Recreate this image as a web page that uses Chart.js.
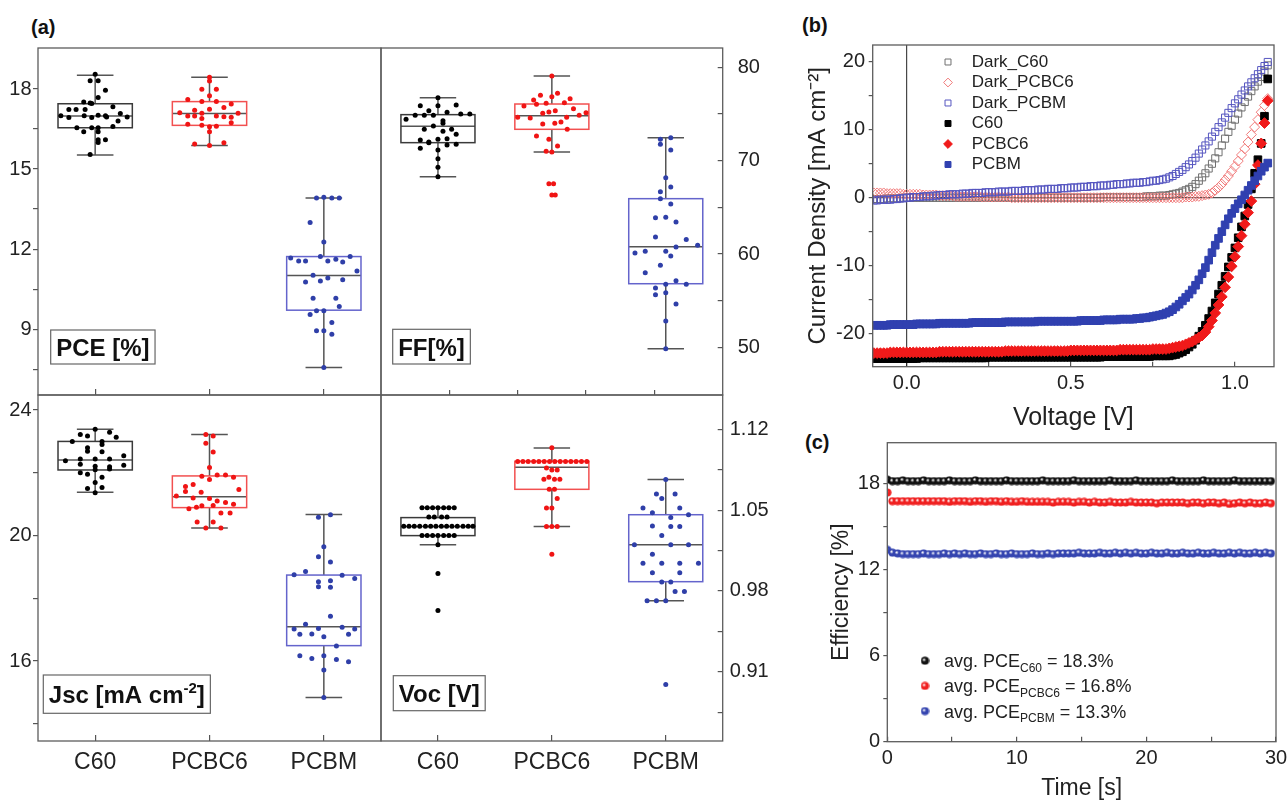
<!DOCTYPE html>
<html>
<head>
<meta charset="utf-8">
<script src="https://cdn.jsdelivr.net/npm/chart.js@4.4.1/dist/chart.umd.min.js"></script>
<style>
  body { margin: 0; background: #fff; }
  #wrap { position: relative; width: 1288px; height: 803px; overflow: hidden; font-family: "Liberation Sans", Arial, sans-serif; }
  #wrap canvas { position: absolute; }
  .lab { position: absolute; font-weight: bold; font-size: 20px; color: #111; line-height: 1; }
</style>
</head>
<body>
<div id="wrap">
  <div class="lab" style="left:31px;top:17px">(a)</div>
  <div class="lab" style="left:802px;top:15px">(b)</div>
  <div class="lab" style="left:805px;top:432px">(c)</div>
  <canvas id="pce" width="400" height="380" style="left:0;top:30px"></canvas>
  <canvas id="ff" width="400" height="380" style="left:370px;top:30px"></canvas>
  <canvas id="jsc" width="400" height="423" style="left:0;top:380px"></canvas>
  <canvas id="voc" width="400" height="423" style="left:370px;top:380px"></canvas>
  <canvas id="jv" width="508" height="420" style="left:780px;top:20px"></canvas>
  <canvas id="eff" width="508" height="383" style="left:780px;top:420px"></canvas>
</div>
<script>
// ---------- data: panel (a) ----------
const categories = ['C60', 'PCBC6', 'PCBM'];

// box statistics per category: [min, q1, median, q3, max]
const pceStats = [[15.53, 16.55, 16.99, 17.45, 18.52], [15.88, 16.64, 17.08, 17.53, 18.44], [7.56, 9.71, 11.01, 11.72, 13.92]];
const ffStats = [[68.29, 71.93, 73.68, 74.93, 76.75], [70.93, 73.36, 74.82, 76.07, 79.07], [49.86, 56.82, 60.79, 65.93, 72.46]];
const jscStats = [[21.38, 22.09, 22.41, 23.0, 23.39], [20.24, 20.89, 21.24, 21.9, 23.22], [14.84, 16.49, 17.09, 18.74, 20.67]];
const vocStats = [[1.02, 1.0279, 1.0357, 1.0435, 1.0521], [1.0357, 1.068, 1.0871, 1.0923, 1.1038], [0.9715, 0.988, 1.02, 1.046, 1.0764]];

// individual devices: [value, horizontal jitter in category units]
const pceC60 = [[18.56,0],[18.31,-0.044],[18.31,0.026],[17.96,0.09],[17.68,0.026],[17.52,-0.1],[17.48,-0.044],[17.46,-0.03],[17.34,0.155],[17.23,-0.23],[17.23,-0.167],[17.23,-0.088],[17.0,-0.3],[16.93,-0.23],[17.0,-0.096],[16.93,-0.03],[17.02,0.026],[17.0,0.09],[16.95,0.1],[17.08,0.22],[16.95,0.28],[16.8,0.2],[16.55,-0.16],[16.4,-0.1],[16.55,-0.03],[16.55,0.026],[16.6,0.155],[16.4,0.026],[16.1,0.026],[16.0,0.026],[16.1,0.09],[15.55,-0.044]];
const pcePCBC6 = [[18.44,0],[18.3,0],[17.99,-0.067],[17.99,0.06],[17.75,0],[17.61,-0.19],[17.53,-0.067],[17.53,0.06],[17.44,0.19],[17.24,0],[17.21,-0.13],[17.31,0.126],[17.11,-0.26],[16.99,-0.13],[16.99,-0.19],[17.09,-0.067],[16.99,0.06],[16.94,0.19],[17.09,0.25],[16.74,0.19],[16.68,-0.19],[16.64,-0.067],[16.59,0],[16.61,0.06],[16.4,0],[15.94,-0.13],[15.88,0],[15.99,0.126],[16.96,0.126],[16.9,-0.067]];
const pcePCBM = [[13.92,-0.064],[13.94,0],[13.92,0.07],[13.92,0.135],[13.0,-0.12],[12.27,0],[11.67,-0.29],[11.55,-0.22],[11.55,-0.16],[11.72,-0.03],[11.55,0.035],[11.62,0.105],[11.52,0.165],[11.72,0.23],[11.18,0.29],[11.02,-0.094],[10.92,0.035],[10.77,-0.16],[10.8,-0.03],[10.85,0.165],[10.16,-0.094],[10.16,0.105],[9.85,0.135],[9.69,-0.064],[9.69,0],[9.55,-0.12],[9.25,0.07],[8.94,-0.064],[8.94,0],[8.81,0.07],[7.56,0]];

const ffC60 = [[76.75,0],[75.89,-0.155],[75.89,0],[75.96,0.16],[75.36,-0.08],[74.43,-0.28],[74.86,-0.2],[74.86,-0.12],[74.86,-0.04],[75.18,0.08],[75.0,0.2],[75.0,0.28],[74.29,0.044],[74.0,0.044],[73.71,-0.04],[73.36,-0.12],[73.36,0.12],[72.82,0.16],[73.14,0.044],[72.21,-0.155],[71.93,-0.08],[72.29,0],[72.36,0.08],[71.75,0.16],[71.32,-0.155],[72.0,-0.08],[71.68,0.08],[71.14,0],[70.21,0],[69.29,0],[68.29,0]];
const ffPCBC6 = [[79.07,0],[77.0,-0.1],[76.86,0],[77.21,0.05],[76.5,-0.16],[76.64,0.16],[75.86,-0.245],[76.04,-0.135],[76.14,-0.05],[76.21,0.11],[75.57,0.19],[75.07,-0.08],[75.21,-0.026],[75.36,0.03],[74.64,-0.3],[74.57,-0.19],[74.64,0.13],[74.86,0.24],[75.14,0.3],[73.93,-0.08],[74.0,0.026],[74.14,0.08],[73.36,0.135],[72.64,-0.135],[72.29,-0.026],[71.57,0.05],[71.0,-0.05],[70.93,0],[67.54,-0.026],[67.54,0.015],[66.32,0],[66.32,0.03]];
const ffPCBM = [[72.29,-0.047],[72.46,0.044],[71.75,-0.047],[71.14,0.044],[68.18,0],[66.68,-0.047],[67.18,0.044],[65.93,-0.047],[65.36,0.044],[63.89,-0.09],[63.93,0],[63.43,0.09],[61.82,-0.09],[61.57,0.18],[60.93,0.28],[60.75,0.09],[60.11,-0.27],[60.29,-0.18],[60.29,0],[59.79,0.044],[58.79,-0.047],[58.0,-0.18],[57.14,0.09],[56.75,0],[56.75,0.18],[56.36,-0.09],[55.64,-0.09],[55.86,0],[54.64,0.09],[52.82,0],[49.86,0]];

const jscC60 = [[23.39,0],[23.22,-0.13],[23.17,-0.067],[23.29,0.126],[23.13,0.184],[23.0,-0.2],[23.0,0.06],[22.9,0.06],[22.8,-0.067],[22.69,-0.067],[22.67,0.06],[22.54,0.25],[22.38,-0.26],[22.44,-0.13],[22.44,0],[22.44,0.126],[22.27,-0.13],[22.21,0],[22.19,0.126],[22.24,0.25],[22.1,0],[22.12,0.126],[22.0,-0.13],[21.95,-0.067],[21.86,0.06],[21.69,0],[21.5,-0.067],[21.53,0.06],[21.36,0]];
const jscPCBC6 = [[23.22,-0.032],[23.17,0.032],[22.94,-0.032],[22.66,0.032],[22.17,0],[21.89,-0.067],[21.79,0],[21.93,0.067],[21.93,0.14],[21.86,0.21],[21.63,-0.143],[21.56,-0.21],[21.4,-0.21],[21.38,-0.073],[21.47,0.257],[21.26,-0.29],[21.2,-0.143],[21.18,0],[21.1,0.067],[21.05,0.14],[21.0,0.21],[20.95,-0.067],[20.96,0.032],[20.9,-0.114],[20.85,-0.18],[20.72,0.1],[20.72,0.18],[20.43,-0.108],[20.43,0.032],[20.24,-0.032],[20.24,0.1]];
const jscPCBM = [[20.58,-0.047],[20.66,0.058],[19.64,0],[19.32,-0.047],[19.16,0.058],[18.75,-0.26],[18.85,-0.16],[18.73,0.16],[18.63,0.27],[18.53,-0.047],[18.56,0.058],[18.37,-0.047],[18.35,0.058],[17.43,0.058],[17.17,-0.16],[17.02,-0.26],[17.04,-0.047],[17.08,0.16],[17.02,0.27],[16.85,-0.21],[16.86,-0.105],[16.77,0],[16.85,0.216],[16.48,0.11],[16.17,-0.21],[16.08,-0.105],[16.17,0],[16.05,0.11],[15.98,0.216],[15.71,0],[14.84,0]];

const vocC60 = [[1.052,-0.14],[1.052,-0.094],[1.052,-0.047],[1.052,0],[1.052,0.05],[1.052,0.096],[1.052,0.143],
  [1.044,-0.08],[1.044,-0.032],[1.044,0.032],[1.044,0.08],
  [1.036,-0.3],[1.036,-0.254],[1.036,-0.208],[1.036,-0.16],[1.036,-0.11],[1.036,-0.064],[1.036,-0.018],[1.036,0.03],[1.036,0.076],[1.036,0.123],[1.036,0.17],[1.036,0.22],[1.036,0.266],[1.036,0.307],
  [1.028,-0.14],[1.028,-0.094],[1.028,-0.047],[1.028,0],[1.028,0.05],[1.028,0.096],[1.028,0.143],
  [1.02,0],[0.995,0],[0.963,0]];
const vocPCBC6 = [[1.104,0],
  [1.092,-0.3],[1.092,-0.254],[1.092,-0.208],[1.092,-0.16],[1.092,-0.114],[1.092,-0.067],[1.092,-0.02],[1.092,0.026],[1.092,0.073],[1.092,0.12],[1.092,0.167],[1.092,0.213],[1.092,0.26],[1.092,0.307],
  [1.0865,-0.047],[1.0848,0],[1.0848,0.047],[1.0784,-0.026],[1.0767,-0.07],[1.0767,0.023],[1.0767,0.07],
  [1.068,-0.023],[1.068,0.023],[1.06,0.047],[1.0518,-0.047],[1.0518,0],[1.0357,-0.047],[1.0357,0],[1.0357,0.047],[1.0117,0]];
const vocPCBM = [[1.0764,0],[1.064,-0.082],[1.06,-0.035],[1.064,0.082],[1.0518,-0.2],[1.0478,-0.117],[1.0518,0.123],[1.046,0.2],[1.0437,0.044],
  [1.0362,-0.117],[1.0357,0.044],[1.0357,0.123],[1.028,-0.035],[1.02,-0.275],[1.02,0.044],[1.02,0.2],[1.0117,-0.117],
  [1.0039,-0.2],[1.0039,-0.035],[1.0039,0.123],[1.0039,0.287],[0.9958,-0.117],[0.9958,0.123],[0.9877,-0.035],[0.9877,0.044],
  [0.9796,0.082],[0.9796,0.164],[0.9715,-0.164],[0.9715,-0.082],[0.9715,0],[0.899,0]];

// axis ticks / labels
const pceTicks = [7.5, 9, 10.5, 12, 13.5, 15, 16.5, 18], pceLabels = [9, 12, 15, 18];
const ffTicks = [50, 55, 60, 65, 70, 75, 80], ffLabels = [50, 60, 70, 80];
const jscTicks = [14, 16, 18, 20, 22, 24], jscLabels = [16, 20, 24];
const vocTicks = [0.875, 0.91, 0.945, 0.98, 1.015, 1.05, 1.085, 1.12], vocLabels = [0.91, 0.98, 1.05, 1.12];
const catTicks = [1, 2, 3];
const ffBottomTicks = [1.1, 1.7, 2.3, 2.9];

// ---------- data: panel (b) ----------
const volt = [-0.1,-0.09,-0.08,-0.07,-0.06,-0.05,-0.04,-0.03,-0.02,-0.01,
  0,0.01,0.02,0.03,0.04,0.05,0.06,0.07,0.08,0.09,
  0.1,0.11,0.12,0.13,0.14,0.15,0.16,0.17,0.18,0.19,
  0.2,0.21,0.22,0.23,0.24,0.25,0.26,0.27,0.28,0.29,
  0.3,0.31,0.32,0.33,0.34,0.35,0.36,0.37,0.38,0.39,
  0.4,0.41,0.42,0.43,0.44,0.45,0.46,0.47,0.48,0.49,
  0.5,0.51,0.52,0.53,0.54,0.55,0.56,0.57,0.58,0.59,
  0.6,0.61,0.62,0.63,0.64,0.65,0.66,0.67,0.68,0.69,
  0.7,0.71,0.72,0.73,0.74,0.75,0.76,0.77,0.78,0.79,
  0.8,0.81,0.82,0.83,0.84,0.85,0.86,0.87,0.88,0.89,
  0.9,0.91,0.92,0.93,0.94,0.95,0.96,0.97,0.98,0.99,
  1.0,1.01,1.02,1.03,1.04,1.05,1.06,1.07,1.08,1.09,
  1.1];
const jDarkC60 = [-0.2,-0.2,-0.2,-0.2,-0.1,-0.1,-0.1,-0.1,-0.1,0,
  0,0,0,0,0,0,0,0,0,0,
  0,0,0,0,0,0,0,0,0,0,
  0,0,0,0,0,0,0,0,0,0,
  0,0,0,0,0,0,0,0,0,0,
  0,0,0,0,0,0,0,0,0,0,
  0,0,0,0,0,0,0,0,0,0,
  0.1,0.1,0.1,0.1,0.1,0.1,0.1,0.1,0.1,0.1,
  0.1,0.1,0.1,0.2,0.2,0.2,0.2,0.3,0.3,0.3,
  0.4,0.5,0.6,0.7,0.9,1.1,1.3,1.6,2.0,2.5,
  3.0,3.6,4.3,5.0,5.8,6.7,7.7,8.7,9.7,10.6,
  11.5,12.4,13.3,14.1,14.9,15.7,16.4,17.1,17.8,18.6,
  19.5];
const jDarkPCBC6 = [0.7,0.7,0.7,0.7,0.6,0.6,0.6,0.6,0.6,0.5,
  0.5,0.5,0.5,0.5,0.5,0.4,0.4,0.4,0.4,0.4,
  0.3,0.3,0.3,0.3,0.3,0.2,0.2,0.2,0.2,0.2,
  0.2,0.2,0.2,0.1,0.1,0.1,0.1,0.1,0.1,0.1,
  0.1,0.1,0,0,0,0,0,0,0,0,
  0,0,0,0,0,0,0,0,0,0,
  0,0,0,0,0,0,0,0,0,0,
  0,0,0,0,0,0,0,0,0,0,
  0,0,0,0,0,0,0,0,0,0,
  0,0,0,0,0,0.1,0.1,0.1,0.2,0.2,
  0.3,0.4,0.5,0.7,1.1,1.5,2.0,2.6,3.2,3.9,
  4.6,5.4,6.3,7.2,8.2,9.3,10.4,11.5,12.6,13.6,
  14.6];
const jDarkPCBM = [-0.4,-0.4,-0.3,-0.3,-0.3,-0.3,-0.2,-0.2,-0.1,-0.1,
  0,0,0.1,0.1,0.1,0.2,0.2,0.2,0.3,0.3,
  0.4,0.4,0.4,0.5,0.5,0.5,0.5,0.6,0.6,0.6,
  0.7,0.7,0.7,0.7,0.8,0.8,0.8,0.8,0.9,0.9,
  0.9,0.9,1.0,1.0,1.0,1.0,1.1,1.1,1.1,1.1,
  1.2,1.2,1.2,1.3,1.3,1.3,1.3,1.4,1.4,1.4,
  1.5,1.5,1.5,1.6,1.6,1.6,1.7,1.7,1.7,1.8,
  1.8,1.8,1.9,1.9,2.0,2.0,2.0,2.1,2.1,2.2,
  2.2,2.2,2.3,2.3,2.4,2.5,2.5,2.6,2.7,2.8,
  3.0,3.2,3.5,3.8,4.1,4.5,4.9,5.4,5.9,6.5,
  7.1,7.7,8.3,9.0,9.7,10.4,11.1,11.8,12.5,13.2,
  13.9,14.5,15.2,15.8,16.4,17.0,17.6,18.2,18.8,19.4,
  20.0];
const jC60 = [-23.7,-23.7,-23.7,-23.7,-23.7,-23.7,-23.7,-23.7,-23.7,-23.7,
  -23.7,-23.7,-23.7,-23.7,-23.6,-23.6,-23.6,-23.6,-23.6,-23.6,
  -23.6,-23.6,-23.6,-23.6,-23.6,-23.6,-23.6,-23.6,-23.6,-23.6,
  -23.6,-23.6,-23.6,-23.6,-23.6,-23.5,-23.5,-23.5,-23.5,-23.5,
  -23.5,-23.5,-23.5,-23.5,-23.5,-23.5,-23.5,-23.5,-23.5,-23.5,
  -23.5,-23.5,-23.5,-23.5,-23.5,-23.5,-23.5,-23.5,-23.5,-23.5,
  -23.5,-23.5,-23.5,-23.5,-23.5,-23.5,-23.5,-23.5,-23.5,-23.5,
  -23.4,-23.4,-23.4,-23.4,-23.4,-23.4,-23.4,-23.4,-23.4,-23.4,
  -23.4,-23.4,-23.4,-23.4,-23.4,-23.3,-23.3,-23.3,-23.3,-23.3,
  -23.3,-23.2,-23.1,-22.9,-22.7,-22.4,-22.0,-21.6,-21.0,-20.4,
  -19.7,-18.8,-17.8,-16.7,-15.5,-14.2,-12.9,-11.6,-10.2,-8.8,
  -7.4,-5.9,-4.3,-2.7,-1.0,1.3,3.6,5.6,8.0,12.0,
  17.5];
const jPCBC6 = [-22.9,-22.9,-22.9,-22.9,-22.9,-22.8,-22.8,-22.8,-22.8,-22.8,
  -22.8,-22.8,-22.8,-22.8,-22.8,-22.8,-22.8,-22.8,-22.8,-22.8,
  -22.7,-22.7,-22.7,-22.7,-22.7,-22.7,-22.7,-22.7,-22.7,-22.7,
  -22.7,-22.7,-22.7,-22.7,-22.7,-22.7,-22.7,-22.7,-22.7,-22.7,
  -22.6,-22.6,-22.6,-22.6,-22.6,-22.6,-22.6,-22.6,-22.6,-22.6,
  -22.6,-22.6,-22.6,-22.6,-22.6,-22.6,-22.6,-22.6,-22.6,-22.6,
  -22.5,-22.5,-22.5,-22.5,-22.5,-22.5,-22.5,-22.5,-22.5,-22.5,
  -22.5,-22.5,-22.5,-22.5,-22.5,-22.4,-22.4,-22.4,-22.4,-22.4,
  -22.4,-22.4,-22.4,-22.4,-22.4,-22.3,-22.3,-22.3,-22.3,-22.3,
  -22.2,-22.1,-22.0,-21.9,-21.8,-21.6,-21.4,-21.2,-20.9,-20.6,
  -20.3,-19.8,-19.0,-18.1,-17.0,-15.8,-14.6,-13.2,-11.7,-10.1,
  -8.7,-7.2,-5.6,-3.9,-2.2,-0.5,2.0,4.8,8.0,11.0,
  14.3];
const jPCBM = [-18.8,-18.8,-18.8,-18.8,-18.8,-18.7,-18.7,-18.7,-18.7,-18.7,
  -18.7,-18.7,-18.7,-18.6,-18.6,-18.6,-18.6,-18.6,-18.6,-18.6,
  -18.5,-18.5,-18.5,-18.5,-18.5,-18.5,-18.5,-18.5,-18.5,-18.5,
  -18.4,-18.4,-18.4,-18.4,-18.4,-18.4,-18.4,-18.4,-18.4,-18.4,
  -18.3,-18.3,-18.3,-18.3,-18.3,-18.3,-18.3,-18.3,-18.3,-18.3,
  -18.2,-18.2,-18.2,-18.2,-18.2,-18.2,-18.2,-18.2,-18.2,-18.2,
  -18.2,-18.2,-18.2,-18.1,-18.1,-18.1,-18.1,-18.1,-18.1,-18.1,
  -18.0,-18.0,-18.0,-18.0,-18.0,-17.9,-17.9,-17.9,-17.9,-17.9,
  -17.8,-17.8,-17.7,-17.7,-17.6,-17.5,-17.4,-17.3,-17.2,-17.0,
  -16.8,-16.5,-16.1,-15.7,-15.2,-14.7,-14.2,-13.6,-12.9,-12.1,
  -11.2,-10.3,-9.2,-8.1,-7.0,-6.0,-5.0,-4.0,-3.1,-2.3,
  -1.6,-0.9,-0.3,0.4,1.1,1.8,2.5,3.2,3.9,4.5,
  5.1];
const jvNames = ['Dark_C60', 'Dark_PCBC6', 'Dark_PCBM', 'C60', 'PCBC6', 'PCBM'];
const jvXTicks = [0, 0.25, 0.5, 0.75, 1], jvXLabels = [0, 0.5, 1];
const jvYTicks = [-20, -15, -10, -5, 0, 5, 10, 15, 20], jvYLabels = [-20, -10, 0, 10, 20];

// ---------- data: panel (c) ----------
const time = [0,0.4,0.8,1.2,1.6,2,2.4,2.8,3.2,3.6,4,4.4,4.8,5.2,5.6,6,6.4,6.8,7.2,7.6,8,8.4,8.8,9.2,9.6,10,10.4,10.8,11.2,11.6,12,12.4,12.8,13.2,13.6,14,14.4,14.8,15.2,15.6,16,16.4,16.8,17.2,17.6,18,18.4,18.8,19.2,19.6,20,20.4,20.8,21.2,21.6,22,22.4,22.8,23.2,23.6,24,24.4,24.8,25.2,25.6,26,26.4,26.8,27.2,27.6,28,28.4,28.8,29.2,29.6];
const effC60 = [18.3,18.2,18.2,18.25,18.2,18.2,18.2,18.25,18.2,18.2,18.2,18.2,18.25,18.2,18.2,
  18.2,18.2,18.25,18.2,18.2,18.2,18.2,18.2,18.25,18.2,18.2,18.2,18.2,18.2,18.2,
  18.25,18.2,18.2,18.2,18.2,18.2,18.25,18.2,18.2,18.2,18.2,18.2,18.2,18.25,18.2,
  18.2,18.2,18.2,18.25,18.2,18.2,18.2,18.2,18.2,18.2,18.25,18.2,18.2,18.2,18.2,
  18.2,18.25,18.2,18.2,18.2,18.2,18.2,18.25,18.2,18.2,18.2,18.2,18.2,18.2,18.2];
const effPCBC6 = [17.4,16.8,16.8,16.8,16.8,16.8,16.8,16.8,16.8,16.8,16.8,16.8,16.75,16.8,16.8,
  16.8,16.75,16.8,16.8,16.75,16.8,16.8,16.75,16.8,16.75,16.75,16.8,16.75,16.75,16.75,
  16.75,16.75,16.7,16.75,16.75,16.75,16.7,16.75,16.75,16.7,16.75,16.7,16.7,16.75,16.7,
  16.7,16.7,16.75,16.7,16.7,16.7,16.7,16.65,16.7,16.7,16.7,16.7,16.7,16.65,16.7,
  16.7,16.65,16.7,16.7,16.65,16.7,16.6,16.65,16.7,16.65,16.7,16.65,16.65,16.7,16.65];
const effPCBM = [13.4,13.2,13.15,13.1,13.1,13.1,13.1,13.15,13.1,13.1,13.1,13.15,13.1,13.15,13.1,
  13.15,13.1,13.1,13.15,13.1,13.1,13.15,13.1,13.1,13.15,13.1,13.1,13.1,13.15,13.1,
  13.1,13.15,13.1,13.15,13.15,13.15,13.15,13.2,13.15,13.15,13.15,13.2,13.15,13.15,13.2,
  13.15,13.2,13.15,13.2,13.15,13.15,13.2,13.15,13.15,13.2,13.15,13.15,13.2,13.15,13.15,
  13.2,13.15,13.15,13.2,13.15,13.15,13.2,13.15,13.2,13.15,13.15,13.2,13.15,13.2,13.15];
const effNames = ['C60', 'PCBC6', 'PCBM'];
const effAvg = [18.3, 16.8, 13.3];
const effXTicks = [0, 5, 10, 15, 20, 25, 30], effXLabels = [0, 10, 20, 30];
const effYTicks = [0, 3, 6, 9, 12, 15, 18], effYLabels = [0, 6, 12, 18];

// ---------- styling ----------
const FONT = '"Liberation Sans", Arial, sans-serif';
Chart.defaults.font.family = FONT;
Chart.defaults.color = '#222';
const AXIS = '#555';
const dotColors = ['#000000', '#f01414', '#2f3fa8'];
const boxColors = ['#3a3a3a', '#f25050', '#6464cc'];

function axis(o) {
  return {
    type: 'linear', position: o.pos, min: o.min, max: o.max,
    border: { display: false },
    grid: { drawOnChartArea: false, drawTicks: true, tickLength: o.tl, color: AXIS, lineWidth: 1.2 },
    ticks: {
      autoSkip: false, maxRotation: 0, minRotation: 0, padding: o.pad,
      font: { size: o.fs || 20 }, color: '#222',
      callback: v => {
        const l = o.labels.find(t => Math.abs(t - v) < 1e-6);
        return l === undefined ? '' : (o.fmt ? o.fmt(l) : String(l));
      }
    },
    afterBuildTicks: s => { s.ticks = o.ticks.map(v => ({ value: v })); },
    afterFit: s => {
      if (s.isHorizontal()) s.height = o.size; else s.width = o.size;
      s.paddingTop = s.paddingBottom = s.paddingLeft = s.paddingRight = 0;
    },
    title: o.title ? { display: true, text: o.title, font: { size: o.tfs }, color: '#222', padding: o.tpad } : { display: false }
  };
}

const frame = {
  id: 'frame',
  afterDraw(c) {
    const a = c.chartArea, x = c.ctx;
    x.save();
    x.strokeStyle = '#5c5c5c';
    x.lineWidth = 1.3;
    x.strokeRect(a.left, a.top, a.right - a.left, a.bottom - a.top);
    x.restore();
  }
};

function boxPlugin(stats) {
  return {
    id: 'boxes',
    beforeDatasetsDraw(chart) {
      const ctx = chart.ctx, x = chart.scales.x, y = chart.scales.y;
      ctx.save();
      ctx.lineWidth = 1.5;
      stats.forEach((s, i) => {
        const cx = x.getPixelForValue(i + 1);
        const hw = x.getPixelForValue(i + 1.325) - cx;
        const cw = x.getPixelForValue(i + 1.16) - cx;
        const [mn, q1, md, q3, mx] = s.map(v => y.getPixelForValue(v));
        ctx.strokeStyle = '#555';
        ctx.beginPath();
        ctx.moveTo(cx, mx); ctx.lineTo(cx, q3);
        ctx.moveTo(cx, q1); ctx.lineTo(cx, mn);
        ctx.moveTo(cx - cw, mx); ctx.lineTo(cx + cw, mx);
        ctx.moveTo(cx - cw, mn); ctx.lineTo(cx + cw, mn);
        ctx.moveTo(cx - hw, md); ctx.lineTo(cx + hw, md);
        ctx.stroke();
        ctx.strokeStyle = boxColors[i];
        ctx.strokeRect(cx - hw, q3, 2 * hw, q1 - q3);
      });
      ctx.restore();
    }
  };
}

// boxed panel label, e.g. "PCE [%]"
function tagPlugin(t) {
  return {
    id: 'tag',
    afterDraw(c) {
      const x = c.ctx, a = c.chartArea;
      const f = s => 'bold ' + (s.sup ? 15 : 24) + 'px ' + FONT;
      x.save();
      let w = 0;
      t.segs.forEach(s => { x.font = f(s); w += x.measureText(s.t).width; });
      const L = a.left + t.dx, T = a.bottom - t.dy;
      x.strokeStyle = '#666';
      x.lineWidth = 1.2;
      x.strokeRect(L, T, w + 11, t.h);
      x.fillStyle = '#111';
      x.textBaseline = 'alphabetic';
      let cx = L + 5.5;
      const by = T + t.h / 2 + 9;
      t.segs.forEach(s => {
        x.font = f(s);
        x.fillText(s.t, cx, by - (s.sup ? 10 : 0));
        cx += x.measureText(s.t).width;
      });
      x.restore();
    }
  };
}

function boxChart(id, o) {
  return new Chart(document.getElementById(id), {
    type: 'scatter',
    data: {
      datasets: o.points.map((pts, i) => ({
        data: pts.map(p => ({ x: i + 1 + p[1], y: p[0] })),
        pointRadius: 2.5, pointHoverRadius: 2.5, pointBorderWidth: 0,
        pointBackgroundColor: dotColors[i], borderColor: dotColors[i]
      }))
    },
    options: {
      responsive: false, animation: false, events: [],
      layout: { padding: o.pad },
      plugins: { legend: { display: false }, tooltip: { enabled: false } },
      scales: { x: o.x, y: o.y }
    },
    plugins: [boxPlugin(o.stats), tagPlugin(o.tag), frame]
  });
}

const catFmt = v => categories[v - 1];

boxChart('pce', {
  points: [pceC60, pcePCBC6, pcePCBM], stats: pceStats,
  pad: { left: 0, top: 18, right: 19, bottom: 15 },
  x: axis({ pos: 'bottom', min: 0.5, max: 3.5, ticks: catTicks, labels: [], tl: -6, pad: 0, size: 0 }),
  y: axis({ pos: 'left', min: 6.53, max: 19.54, ticks: pceTicks, labels: pceLabels, tl: 5, pad: 1.5, size: 38 }),
  tag: { segs: [{ t: 'PCE [%]' }], dx: 12.7, dy: 65, h: 34 }
});

boxChart('ff', {
  points: [ffC60, ffPCBC6, ffPCBM], stats: ffStats,
  pad: { left: 11, top: 18, right: 0, bottom: 15 },
  x: axis({ pos: 'bottom', min: 0.5, max: 3.5, ticks: ffBottomTicks, labels: [], tl: -5, pad: 0, size: 0 }),
  y: axis({ pos: 'right', min: 44.9, max: 82.07, ticks: ffTicks, labels: ffLabels, tl: -5, pad: 20, size: 47.3 }),
  tag: { segs: [{ t: 'FF[%]' }], dx: 11.7, dy: 65.7, h: 34.7 }
});

boxChart('jsc', {
  points: [jscC60, jscPCBC6, jscPCBM], stats: jscStats,
  pad: { left: 0, top: 15, right: 19, bottom: 0 },
  x: axis({ pos: 'bottom', min: 0.5, max: 3.5, ticks: catTicks, labels: catTicks, fmt: catFmt, tl: -6, pad: 14, size: 62, fs: 23 }),
  y: axis({ pos: 'left', min: 13.45, max: 24.48, ticks: jscTicks, labels: jscLabels, tl: 5, pad: 1.5, size: 38 }),
  tag: { segs: [{ t: 'Jsc [mA cm' }, { t: '-2', sup: true }, { t: ']' }], dx: 5.3, dy: 66, h: 38.3 }
});

boxChart('voc', {
  points: [vocC60, vocPCBC6, vocPCBM], stats: vocStats,
  pad: { left: 11, top: 15, right: 0, bottom: 0 },
  x: axis({ pos: 'bottom', min: 0.5, max: 3.5, ticks: catTicks, labels: catTicks, fmt: catFmt, tl: -6, pad: 14, size: 62, fs: 23 }),
  y: axis({ pos: 'right', min: 0.85, max: 1.1497, ticks: vocTicks, labels: vocLabels, fmt: v => v.toFixed(2), tl: -5, pad: 12, size: 47.3 }),
  tag: { segs: [{ t: 'Voc [V]' }], dx: 12.3, dy: 65.3, h: 35 }
});

// ---------- panel (b): J-V ----------
const jvSeries = [jDarkC60, jDarkPCBC6, jDarkPCBM, jC60, jPCBC6, jPCBM];
const jvStyle = [
  { shape: 'rect', r: 5, color: '#707070', open: true },
  { shape: 'rectRot', r: 5, color: '#f07a7a', open: true },
  { shape: 'rect', r: 5, color: '#5555c0', open: true },
  { shape: 'rect', r: 5.4, color: '#000000', open: false },
  { shape: 'rectRot', r: 5.4, color: '#f01a1a', open: false },
  { shape: 'rect', r: 5.4, color: '#3040b0', open: false }
];

function drawMarker(ctx, st, x, y, r) {
  ctx.save();
  ctx.translate(x, y);
  ctx.beginPath();
  if (st.shape === 'rectRot') {
    ctx.moveTo(-r, 0); ctx.lineTo(0, -r); ctx.lineTo(r, 0); ctx.lineTo(0, r); ctx.closePath();
  } else {
    const h = r * Math.SQRT1_2;
    ctx.rect(-h, -h, 2 * h, 2 * h);
  }
  ctx.lineWidth = 1;
  ctx.strokeStyle = st.color;
  if (!st.open) { ctx.fillStyle = st.color; ctx.fill(); }
  ctx.stroke();
  ctx.restore();
}

const zeroLines = {
  id: 'zeroLines',
  beforeDatasetsDraw(c) {
    const { ctx, chartArea: a, scales: { x, y } } = c;
    const px = x.getPixelForValue(0), py = y.getPixelForValue(0);
    ctx.save();
    ctx.strokeStyle = '#222';
    ctx.lineWidth = 1;
    ctx.beginPath();
    ctx.moveTo(px, a.top); ctx.lineTo(px, a.bottom);
    ctx.moveTo(a.left, py); ctx.lineTo(a.right, py);
    ctx.stroke();
    ctx.restore();
  }
};

const jvLegend = {
  id: 'jvLegend',
  afterDraw(c) {
    const x = c.ctx, a = c.chartArea;
    x.save();
    jvNames.forEach((n, i) => {
      const py = a.top + 17 + i * 20.5;
      drawMarker(x, jvStyle[i], a.left + 75.3, py, jvStyle[i].shape === 'rectRot' ? 4.4 : 4.2);
      x.font = '17px ' + FONT;
      x.fillStyle = '#222';
      x.textBaseline = 'middle';
      x.fillText(n, a.left + 99, py);
    });
    x.restore();
  }
};

new Chart(document.getElementById('jv'), {
  type: 'scatter',
  data: {
    datasets: jvSeries.map((js, i) => ({
      label: jvNames[i],
      data: volt.map((v, k) => ({ x: v, y: js[k] })),
      pointStyle: jvStyle[i].shape,
      pointRadius: jvStyle[i].r, pointHoverRadius: jvStyle[i].r,
      pointBorderWidth: 1,
      pointBorderColor: jvStyle[i].color,
      pointBackgroundColor: jvStyle[i].open ? 'rgba(0,0,0,0)' : jvStyle[i].color,
      order: 6 - i
    }))
  },
  options: {
    responsive: false, animation: false, events: [],
    layout: { padding: { left: 0, top: 25, right: 14, bottom: 0 } },
    plugins: { legend: { display: false }, tooltip: { enabled: false } },
    scales: {
      x: axis({ pos: 'bottom', min: -0.1035, max: 1.119, ticks: jvXTicks, labels: jvXLabels, fmt: v => v.toFixed(1),
        tl: -5, pad: 9.8, size: 73.3, title: 'Voltage [V]', tfs: 25, tpad: { top: 0, bottom: 7 } }),
      y: axis({ pos: 'left', min: -24.9, max: 22.5, ticks: jvYTicks, labels: jvYLabels,
        tl: 4, pad: 3.7, size: 92.7, title: 'Current Density [mA cm\u207B\u00B2]', tfs: 24, tpad: { top: 23.6, bottom: 0 } })
    }
  },
  plugins: [zeroLines, frame, jvLegend]
});

// ---------- panel (c): efficiency vs time ----------
const effSeries = [effC60, effPCBC6, effPCBM];
const effColors = ['#111111', '#f02020', '#3545b0'];

function sphere(col) {
  const c = document.createElement('canvas');
  c.width = c.height = 9;
  const g = c.getContext('2d');
  const gr = g.createRadialGradient(3.3, 3.3, 0.3, 4.5, 4.5, 4.4);
  gr.addColorStop(0, '#ffffff');
  gr.addColorStop(0.4, col);
  gr.addColorStop(1, col);
  g.fillStyle = gr;
  g.beginPath();
  g.arc(4.5, 4.5, 4.1, 0, Math.PI * 2);
  g.fill();
  return c;
}
const effMarkers = effColors.map(sphere);

const effLegend = {
  id: 'effLegend',
  afterDraw(c) {
    const x = c.ctx, a = c.chartArea;
    x.save();
    x.fillStyle = '#222';
    x.textBaseline = 'alphabetic';
    effNames.forEach((n, i) => {
      const py = a.top + 218 + i * 25.2;
      x.drawImage(effMarkers[i], a.left + 37.7 - 4.5, py - 4.5);
      let cx = a.left + 56.7;
      x.font = '18px ' + FONT;
      x.fillText('avg. PCE', cx, py + 6.5);
      cx += x.measureText('avg. PCE').width;
      x.font = '12px ' + FONT;
      x.fillText(n, cx, py + 11);
      cx += x.measureText(n).width;
      x.font = '18px ' + FONT;
      x.fillText(' = ' + effAvg[i].toFixed(1) + '%', cx, py + 6.5);
    });
    x.restore();
  }
};

new Chart(document.getElementById('eff'), {
  type: 'scatter',
  data: {
    datasets: effSeries.map((s, i) => ({
      label: effNames[i],
      data: time.map((t, k) => ({ x: t, y: s[k] })),
      pointStyle: effMarkers[i], pointRadius: 4, pointHoverRadius: 4
    }))
  },
  options: {
    responsive: false, animation: false, events: [],
    layout: { padding: { left: 0, top: 22.7, right: 12, bottom: 0 } },
    plugins: { legend: { display: false }, tooltip: { enabled: false } },
    scales: {
      x: axis({ pos: 'bottom', min: 0, max: 30, ticks: effXTicks, labels: effXLabels,
        tl: -5, pad: 9.3, size: 61.3, title: 'Time [s]', tfs: 23, tpad: { top: 0, bottom: 0.2 } }),
      y: axis({ pos: 'left', min: 0, max: 20.88, ticks: effYTicks, labels: effYLabels,
        tl: 4, pad: 3.3, size: 107.3, title: 'Efficiency [%]', tfs: 23, tpad: { top: 47.9, bottom: 0 } })
    }
  },
  plugins: [frame, effLegend]
});
</script>
</body>
</html>
